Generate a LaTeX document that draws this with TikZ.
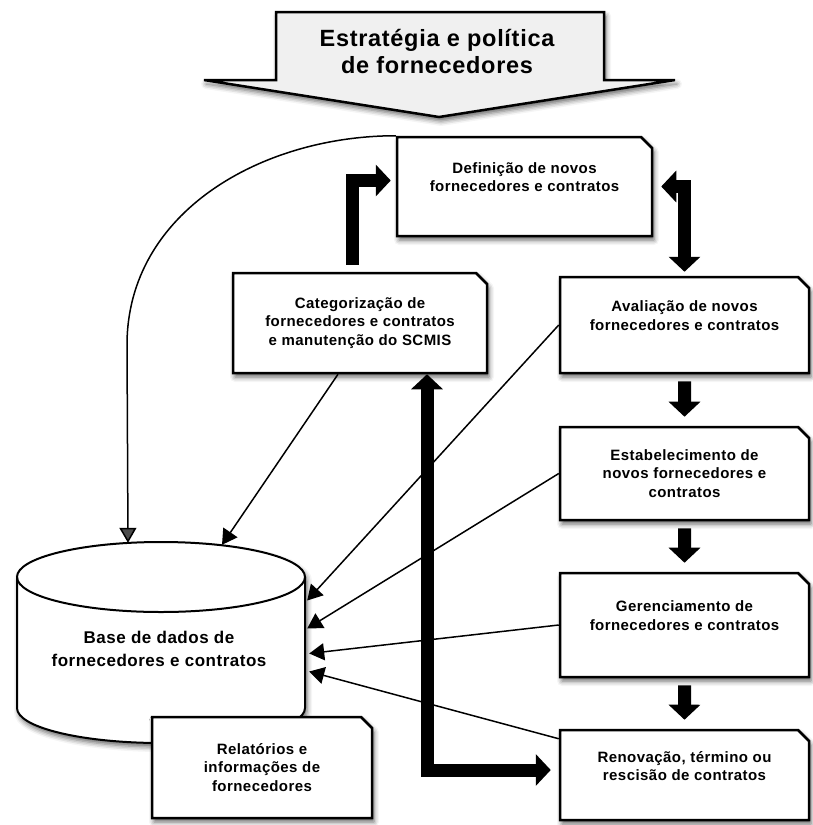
\documentclass[tikz,border=0pt]{standalone}
\usepackage{fontspec}
\setmainfont{Liberation Sans}[LetterSpace=3]
\usetikzlibrary{shapes.misc,arrows.meta,shadows.blur}

\tikzset{
    soft/.style={blur shadow={shadow xshift=2pt,shadow yshift=-4pt,shadow blur radius=5pt,shadow opacity=60}},
    fat/.style={draw=black,line width=13pt},
    fathead/.style={-{Triangle[width=31pt,length=15pt]}}
}

\begin{document}
\begin{tikzpicture}[x=1pt,y=-1pt]
    \useasboundingbox (0,0) rectangle (813,825);
    % strategy arrow at the top
    \filldraw[fill=black!6,line width=2.5pt,soft] (276,12) -- (604,12) -- (604,80) -- (675,80)
        -- (439,117) -- (204,80) -- (276,80) -- cycle;
    \node[align=center,font=\bfseries\fontsize{23.5}{27}\selectfont] (Strat) at (437,51) {Estratégia e política\\de fornecedores};
    % database
    \filldraw[fill=white,line width=2pt,soft] (17,577) -- (17,708) arc[start angle=180,end angle=360,x radius=144pt,y radius=35pt]
        -- (305,577) arc[start angle=0,end angle=180,x radius=144pt,y radius=35pt] -- cycle;
    \draw[line width=2pt] (17,577) arc[start angle=180,end angle=360,x radius=144pt,y radius=35pt];
    \node[minimum width=288,minimum height=201,inner sep=0pt] (Base) at (161,642.5) {};
    \node[align=center,font=\bfseries\fontsize{17}{23}\selectfont] (BaseTxt) at (159,648.5) {Base de dados de\\fornecedores e contratos};
    \begin{scope}[every node/.style={chamfered rectangle,chamfered rectangle corners=north east,
        chamfered rectangle xsep=5pt,chamfered rectangle ysep=6pt,draw=black,line width=2.5pt,
        fill=white,soft,align=center,inner sep=0pt,font=\bfseries\fontsize{15}{18.5}\selectfont}]
        \node[minimum width=255,minimum height=99] (Def) at (524.5,186.5) {Definição de novos\\fornecedores e contratos\\~};
        \node[minimum width=254,minimum height=100] (Cat) at (360,323) {Categorização de\\fornecedores e contratos\\e manutenção do SCMIS};
        \node[minimum width=249,minimum height=96] (Ava) at (684.5,325) {Avaliação de novos\\fornecedores e contratos\\~};
        \node[minimum width=249,minimum height=93] (Est) at (684.5,473.5) {Estabelecimento de\\novos fornecedores e\\contratos};
        \node[minimum width=249,minimum height=104] (Ger) at (684.5,625) {Gerenciamento de\\fornecedores e contratos\\~};
        \node[minimum width=249,minimum height=90] (Ren) at (684.5,775) {Renovação, término ou\\rescisão de contratos\\~};
        \node[minimum width=220,minimum height=101] (Rel) at (262,767.5) {Relatórios e\\informações de\\fornecedores};
    \end{scope}
    \coordinate (bend) at (127,345);
    % thin flows into the database
    \draw[line width=1.5pt,-{Triangle[width=17pt,length=15pt]}] (Def.north west) to[out=180,in=90] (bend) -- ([xshift=-33pt,yshift=-1pt]Base.north);
    \begin{scope}[every edge/.style={draw=black,line width=1.5pt,-{Triangle[width=17pt,length=15pt]}}]
        \draw ([xshift=-22pt]Cat.south) edge ([xshift=61pt,yshift=-3pt]Base.north);
        \draw (Ava.west) edge ([xshift=2pt,yshift=42pt]Base.east);
        \draw (Est.west) edge ([xshift=2pt,yshift=14pt]Base.east);
        \draw (Ger.west) edge ([xshift=4pt,yshift=-11pt]Base.east);
        \draw ([yshift=-10pt]Ren.north west) edge ([xshift=4pt,yshift=-29pt]Base.east);
    \end{scope}
    % fat arrows
    \draw[fat,fathead,shorten <=7pt,shorten >=5pt] ([xshift=-8pt]Cat.north) |- ([yshift=6pt]Def.west);
    \draw[fat,{Triangle[width=31pt,length=15pt]}-{Triangle[width=31pt,length=15pt]},shorten <=8pt,shorten >=4pt] (Def.east) -| (Ava.north);
    \begin{scope}[every edge/.style={fat,fathead,shorten <=7pt,shorten >=9pt}]
        \draw (Ava) edge (Est);
        \draw (Est) edge (Ger);
        \draw (Ger) edge (Ren);
    \end{scope}
    \draw[fat,{Triangle[width=31pt,length=15pt]}-{Triangle[width=31pt,length=15pt]},shorten >=8pt] ([xshift=67pt]Cat.south) |- ([yshift=5pt]Ren.west);
\end{tikzpicture}
\end{document}
